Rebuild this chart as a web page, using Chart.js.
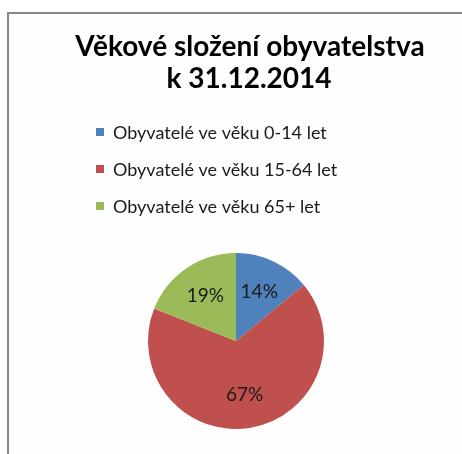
<!DOCTYPE html>
<html lang="cs">
<head>
<meta charset="utf-8">
<script src="https://cdn.jsdelivr.net/npm/chart.js@4/dist/chart.umd.min.js"></script>
<style>
  html, body { margin: 0; padding: 0; background: #ffffff; }
  #ramecek { position: absolute; left: 7px; top: 12px; width: 460px; height: 450px;
             border-top: 2px solid #878787; border-left: 2px solid #878787; background: #fefefe; }
  #graf { position: absolute; left: 0; top: 0; }
</style>
</head>
<body>
<div id="ramecek"></div>
<canvas id="graf" width="462" height="454"></canvas>
<script>
// Data
const nadpis = ['Věkové složení obyvatelstva', 'k 31.12.2014'];
const kategorie = ['Obyvatelé ve věku 0-14 let', 'Obyvatelé ve věku 15-64 let', 'Obyvatelé ve věku 65+ let'];
const hodnoty = [14, 67, 19];
const barvy = ['#4F81BD', '#C0504D', '#9BBB59'];

const pismo = 'Lato, "Open Sans", sans-serif';

// Nadpis + legenda kreslene na canvas
const hlavickaPlugin = {
  id: 'hlavicka',
  afterDraw(chart) {
    const ctx = chart.ctx;
    ctx.save();
    ctx.fillStyle = '#000';
    ctx.textAlign = 'center';
    ctx.textBaseline = 'middle';
    ctx.font = 'bold 28px ' + pismo;
    ctx.fillText(nadpis[0], 250, 47);
    ctx.fillText(nadpis[1], 249, 79);

    // legenda
    const polozky = chart.options.plugins.legend.labels.generateLabels(chart);
    ctx.textAlign = 'left';
    ctx.font = '18px ' + pismo;
    polozky.forEach((p, i) => {
      const y = 132 + i * 37;
      ctx.fillStyle = p.fillStyle;
      ctx.fillRect(96, y - 4, 8, 8);
      ctx.fillStyle = '#1a1a1a';
      ctx.fillText(p.text, 113, y + 1);
    });
    ctx.restore();
  }
};

// Procenta uvnitr vysecí
const popiskyPlugin = {
  id: 'popisky',
  afterDatasetsDraw(chart) {
    const ctx = chart.ctx;
    const meta = chart.getDatasetMeta(0);
    const soucet = hodnoty.reduce((a, b) => a + b, 0);
    ctx.save();
    ctx.fillStyle = '#1a1a1a';
    ctx.font = '19px ' + pismo;
    ctx.textAlign = 'center';
    ctx.textBaseline = 'middle';
    meta.data.forEach((arc, i) => {
      const uhel = (arc.startAngle + arc.endAngle) / 2;
      const r = arc.outerRadius * 0.62;
      const x = arc.x + Math.cos(uhel) * r;
      const y = arc.y + Math.sin(uhel) * r;
      ctx.fillText(Math.round(hodnoty[i] / soucet * 100) + '%', x, y);
    });
    ctx.restore();
  }
};

new Chart(document.getElementById('graf'), {
  type: 'pie',
  data: {
    labels: kategorie,
    datasets: [{
      data: hodnoty,
      backgroundColor: barvy,
      borderWidth: 0
    }]
  },
  options: {
    responsive: false,
    animation: false,
    layout: { padding: { left: 148, right: 138, top: 253, bottom: 25 } },
    plugins: {
      legend: { display: false },
      tooltip: { enabled: false },
      title: { display: false }
    }
  },
  plugins: [hlavickaPlugin, popiskyPlugin]
});
</script>
</body>
</html>
